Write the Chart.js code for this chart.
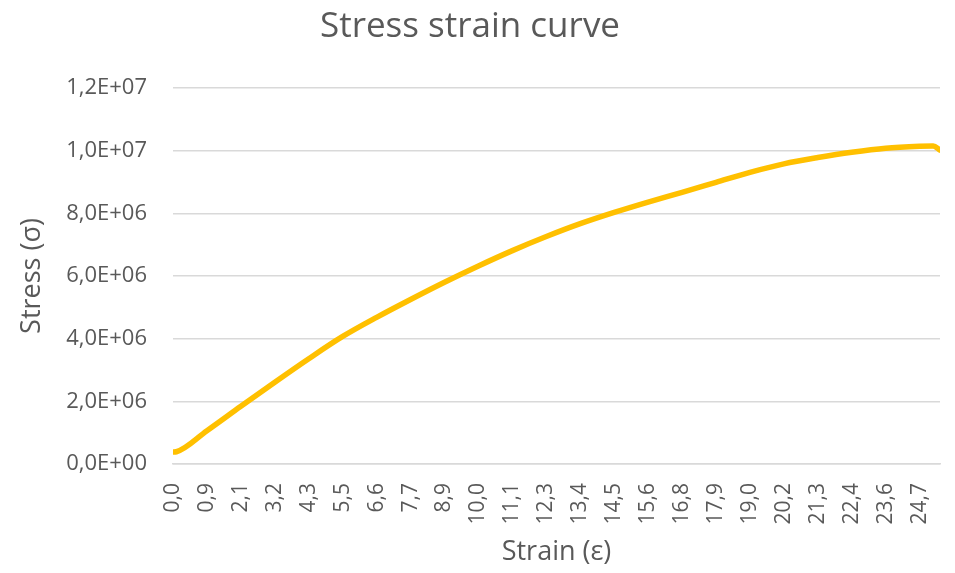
<!DOCTYPE html>
<html><head><meta charset="utf-8">
<script src="https://cdn.jsdelivr.net/npm/chart.js@4/dist/chart.umd.min.js"></script>
<style>html,body{margin:0;padding:0;background:#fff}</style>
</head><body>
<canvas id="c" width="955" height="573"></canvas>
<script>
// Tick labels shown on the category (strain) axis, one every 10 samples
const strainTicks = ['0,0','0,9','2,1','3,2','4,3','5,5','6,6','7,7','8,9','10,0','11,1','12,3','13,4','14,5','15,6','16,8','17,9','19,0','20,2','21,3','22,4','23,6','24,7'];
// Sample positions (category index) of the values
const sampleIndex = [0, 1, 10, 20, 30, 40, 50, 60, 70, 80, 90, 100, 110, 120, 130, 140, 150, 160, 170, 180, 190, 200, 210, 220, 224, 226];
// Stress (Pa) at those samples
const stress = [0.38e6, 0.39e6, 1.06e6, 1.84e6, 2.61e6, 3.36e6, 4.07e6, 4.68e6, 5.25e6, 5.80e6, 6.32e6, 6.81e6, 7.26e6, 7.67e6, 8.03e6, 8.36e6, 8.67e6, 8.99e6, 9.31e6, 9.58e6, 9.78e6, 9.95e6, 10.08e6, 10.14e6, 10.15e6, 10.02e6];
const yTicks = [0, 2e6, 4e6, 6e6, 8e6, 10e6, 12e6];
const lastSample = 226;

const TXT = '#595959', GRID = '#d9d9d9', FONT = "'Open Sans', sans-serif";

function sci(v) {
  if (v === 0) return '0,0E+00';
  let e = Math.floor(Math.log10(v) + 1e-9);
  let m = v / Math.pow(10, e);
  return m.toFixed(1).replace('.', ',') + 'E+' + String(e).padStart(2, '0');
}

new Chart(document.getElementById('c'), {
  type: 'line',
  data: {
    datasets: [{
      data: sampleIndex.map((x, i) => ({x: x, y: stress[i]})),
      borderColor: '#FFC000',
      backgroundColor: '#FFC000',
      borderWidth: 5.5,
      pointRadius: 0,
      borderCapStyle: 'round',
      borderJoinStyle: 'round',
      cubicInterpolationMode: 'monotone',
      fill: false
    }]
  },
  options: {
    responsive: false,
    animation: false,
    devicePixelRatio: 1,
    layout: {padding: {left: 0, right: 15, top: 0, bottom: 0}},
    plugins: {
      legend: {display: false},
      tooltip: {enabled: false},
      title: {
        display: true,
        text: 'Stress strain curve',
        color: TXT,
        font: {family: FONT, size: 35, weight: 'normal'},
        padding: {top: 6, bottom: 40}
      }
    },
    scales: {
      x: {
        type: 'linear',
        min: 0,
        max: lastSample,
        afterBuildTicks: s => { s.ticks = strainTicks.map((_, i) => ({value: i * 10})); },
        afterFit: s => { s.height = 109; s.paddingRight = 0; s.paddingLeft = 0; },
        ticks: {
          autoSkip: false,
          maxRotation: 90,
          minRotation: 90,
          padding: 19,
          color: TXT,
          font: {family: FONT, size: 21},
          callback: (v) => strainTicks[Math.round(v / 10)] ?? ''
        },
        grid: {display: false, drawTicks: false},
        border: {display: true, color: GRID, width: 1.5},
        title: {
          display: true,
          text: 'Strain (ε)',
          color: TXT,
          font: {family: FONT, size: 27},
          padding: {top: 0, bottom: 4}
        }
      },
      y: {
        min: 0,
        max: 12e6,
        afterBuildTicks: s => { s.ticks = yTicks.map(v => ({value: v})); },
        afterFit: s => { s.width = 173; },
        ticks: {
          padding: 26,
          color: TXT,
          font: {family: FONT, size: 22},
          callback: v => sci(v)
        },
        grid: {color: GRID, lineWidth: 1.5, drawTicks: false},
        border: {display: false},
        title: {
          display: true,
          text: 'Stress (σ)',
          color: TXT,
          font: {family: FONT, size: 27},
          padding: {top: 16, bottom: 0}
        }
      }
    }
  }
});
</script>
</body></html>
